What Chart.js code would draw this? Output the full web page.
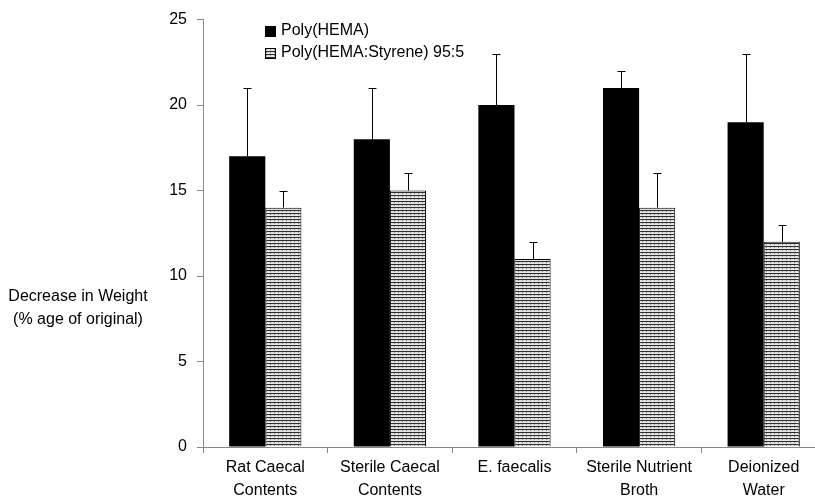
<!DOCTYPE html>
<html>
<head>
<meta charset="utf-8">
<script src="https://cdn.jsdelivr.net/npm/chart.js@4"></script>
<style>
html,body{margin:0;padding:0;background:#fff;overflow:hidden;}
#wrap{width:815px;height:498px;overflow:hidden;position:relative;}
canvas{display:block;}
</style>
</head>
<body>
<div id="wrap"><canvas id="c" width="830" height="498"></canvas></div>
<script>
const categories = [["Rat Caecal","Contents"],["Sterile Caecal","Contents"],["E. faecalis"],["Sterile Nutrient","Broth"],["Deionized","Water"]];
const seriesNames = ["Poly(HEMA)","Poly(HEMA:Styrene) 95:5"];
const hemaValues = [17,18,20,21,19];
const hemaErrors = [4,3,3,1,4];
const styreneValues = [14,15,11,14,12];
const styreneErrors = [1,1,1,2,1];
const yTitle = ["Decrease in Weight","(% age of original)"];
const yTicks = [0,5,10,15,20,25];

const FONT = "'Liberation Sans', Arial, sans-serif";

function makePattern(){
  const p = document.createElement('canvas');
  p.width = 4; p.height = 3;
  const g = p.getContext('2d');
  g.fillStyle = '#e4e4e4'; g.fillRect(0,0,4,3);
  g.fillStyle = '#2e2e2e'; g.fillRect(0,0,4,1);
  g.fillStyle = '#8a8a8a'; g.fillRect(2,1,1,1);
  return document.getElementById('c').getContext('2d').createPattern(p,'repeat');
}
const hatch = makePattern();

const errorBars = {
  id:'errorBars',
  afterDatasetsDraw(chart){
    const ctx = chart.ctx, y = chart.scales.y;
    const errs = [hemaErrors, styreneErrors];
    ctx.save();
    ctx.strokeStyle = '#000'; ctx.lineWidth = 1;
    chart.data.datasets.forEach((ds,di)=>{
      const meta = chart.getDatasetMeta(di);
      meta.data.forEach((bar,i)=>{
        const x = Math.round(bar.x)+0.5;
        const y0 = y.getPixelForValue(ds.data[i]);
        const y1 = Math.round(y.getPixelForValue(ds.data[i]+errs[di][i]))+0.5;
        ctx.beginPath();
        ctx.moveTo(x,y0); ctx.lineTo(x,y1);
        ctx.moveTo(x-4,y1); ctx.lineTo(x+4,y1);
        ctx.stroke();
      });
    });
    ctx.restore();
  }
};

const extras = {
  id:'extras',
  afterDraw(chart){
    const ctx = chart.ctx;
    ctx.save();
    ctx.font = '16px ' + FONT;
    ctx.fillStyle = '#000';
    ctx.textAlign = 'center';
    ctx.textBaseline = 'middle';
    ctx.fillText(yTitle[0], 78, 297);
    ctx.fillText(yTitle[1], 78, 320);
    // legend
    ctx.textAlign = 'left';
    ctx.fillStyle = '#000';
    ctx.fillRect(265,26,11,11);
    ctx.fillText(seriesNames[0], 281, 31);
    ctx.fillStyle = hatch;
    ctx.fillRect(265,48,11,10);
    ctx.strokeStyle = '#000'; ctx.lineWidth = 1;
    ctx.strokeRect(265.5,48.5,10,10);
    ctx.fillStyle = '#000';
    ctx.fillText(seriesNames[1], 281, 53);
    ctx.restore();
  }
};

new Chart(document.getElementById('c'), {
  type:'bar',
  data:{
    labels: categories,
    datasets:[
      {label:seriesNames[0], data:hemaValues, backgroundColor:'#000', borderColor:'#000', borderWidth:0},
      {label:seriesNames[1], data:styreneValues, backgroundColor:hatch, borderColor:'#000', borderWidth:1}
    ]
  },
  options:{
    responsive:false,
    animation:false,
    layout:{padding:{top:10,right:4,left:0,bottom:0}},
    categoryPercentage:0.58,
    barPercentage:1.0,
    plugins:{legend:{display:false},tooltip:{enabled:false}},
    scales:{
      x:{
        grid:{drawOnChartArea:false, drawTicks:true, tickLength:6, color:'#888', offset:true},
        border:{color:'#888', width:1},
        ticks:{color:'#000', padding:4, font:{family:FONT, size:16, lineHeight:1.38}, maxRotation:0, autoSkip:false},
        afterFit(s){ s.height = 51; }
      },
      y:{
        min:0, max:25,
        afterBuildTicks(s){ s.ticks = yTicks.map(v=>({value:v})); },
        grid:{drawOnChartArea:false, drawTicks:true, tickLength:6, color:'#888'},
        border:{color:'#888', width:1},
        ticks:{color:'#000', padding:10, font:{family:FONT, size:16}},
        afterFit(s){ s.width = 203; }
      }
    }
  },
  plugins:[errorBars, extras]
});
</script>
</body>
</html>
